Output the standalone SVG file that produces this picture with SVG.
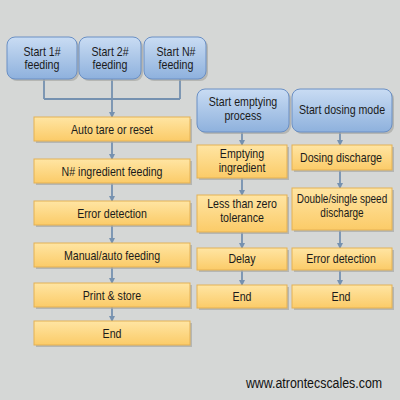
<svg xmlns="http://www.w3.org/2000/svg" width="400" height="400" viewBox="0 0 400 400">
<defs>
<linearGradient id="gb" x1="0" y1="0" x2="0" y2="1"><stop offset="0" stop-color="#c9dcf3"/><stop offset="1" stop-color="#8eb1dd"/></linearGradient>
<linearGradient id="go" x1="0" y1="0" x2="0" y2="1"><stop offset="0" stop-color="#ffe5a3"/><stop offset="1" stop-color="#fbcb68"/></linearGradient>
<marker id="ar" markerWidth="6" markerHeight="6" refX="5" refY="3" orient="auto" markerUnits="userSpaceOnUse"><path d="M0,0 L6,3 L0,6 z" fill="#7591b0"/></marker>
</defs>
<style>
.bl{fill:url(#gb);stroke:#6a8fc4;stroke-width:1}
.or{fill:url(#go);stroke:#e4b155;stroke-width:1}
.sh{fill:#a6a8a4;opacity:.7}
.t{font-family:"Liberation Sans",Arial,sans-serif;font-size:12.5px;fill:#1a1a1a;text-anchor:middle}
.w{font-family:"Liberation Sans",Arial,sans-serif;font-size:15.5px;fill:#111;text-anchor:middle}
.c{fill:none;stroke:#7591b0;stroke-width:1.8}
.ca{fill:none;stroke:#7591b0;stroke-width:1.8;marker-end:url(#ar)}
</style>
<rect width="400" height="400" fill="#d5d7d6"/>

<g id="connectors">
<path class="c" d="M44,79 V99 M112,79 V99 M180,79 V99 M44,99 H180"/>
<path class="ca" d="M112,99 V117"/>
<path class="ca" d="M112,141 V159"/>
<path class="ca" d="M112,183 V201"/>
<path class="ca" d="M112,225 V243"/>
<path class="ca" d="M112,267 V283"/>
<path class="ca" d="M112,307 V321"/>
<path class="ca" d="M242,132 V145"/>
<path class="ca" d="M242,178 V195"/>
<path class="ca" d="M242,232 V248"/>
<path class="ca" d="M242,270 V285"/>
<path class="ca" d="M340,132 V145"/>
<path class="ca" d="M340,170 V188"/>
<path class="ca" d="M340,230 V248"/>
<path class="ca" d="M340,270 V285"/>
</g>

<g id="start1">
<rect class="sh" x="9" y="39" width="70" height="42" rx="8"/>
<rect class="bl" x="7" y="37" width="70" height="42" rx="8"/>
<text class="t" transform="translate(42 55.5) scale(.85 1)"><tspan x="0">Start 1#</tspan><tspan x="0" dy="14">feeding</tspan></text>
</g>
<g id="start2">
<rect class="sh" x="81" y="39" width="62" height="42" rx="8"/>
<rect class="bl" x="79" y="37" width="62" height="42" rx="8"/>
<text class="t" transform="translate(110 55.5) scale(.85 1)"><tspan x="0">Start 2#</tspan><tspan x="0" dy="14">feeding</tspan></text>
</g>
<g id="startN">
<rect class="sh" x="146" y="39" width="62" height="42" rx="8"/>
<rect class="bl" x="144" y="37" width="62" height="42" rx="8"/>
<text class="t" transform="translate(176 55.5) scale(.85 1)"><tspan x="0">Start N#</tspan><tspan x="0" dy="14">feeding</tspan></text>
</g>

<g id="autotare">
<rect class="sh" x="36" y="119" width="156" height="24"/>
<rect class="or" x="34" y="117" width="156" height="24"/>
<text class="t" transform="translate(112 133.5) scale(.85 1)">Auto tare or reset</text>
</g>
<g id="ningredient">
<rect class="sh" x="36" y="161" width="156" height="24"/>
<rect class="or" x="34" y="159" width="156" height="24"/>
<text class="t" transform="translate(112 175.5) scale(.85 1)">N# ingredient feeding</text>
</g>
<g id="errordet">
<rect class="sh" x="36" y="203" width="156" height="24"/>
<rect class="or" x="34" y="201" width="156" height="24"/>
<text class="t" transform="translate(112 217.5) scale(.85 1)">Error detection</text>
</g>
<g id="manual">
<rect class="sh" x="36" y="245" width="156" height="24"/>
<rect class="or" x="34" y="243" width="156" height="24"/>
<text class="t" transform="translate(112 259.5) scale(.85 1)">Manual/auto feeding</text>
</g>
<g id="print">
<rect class="sh" x="36" y="285" width="156" height="24"/>
<rect class="or" x="34" y="283" width="156" height="24"/>
<text class="t" transform="translate(112 299.5) scale(.85 1)">Print &amp; store</text>
</g>
<g id="end1">
<rect class="sh" x="36" y="323" width="156" height="24"/>
<rect class="or" x="34" y="321" width="156" height="24"/>
<text class="t" transform="translate(112 337.5) scale(.85 1)">End</text>
</g>

<g id="startempty">
<rect class="sh" x="199" y="91" width="92" height="43" rx="8"/>
<rect class="bl" x="197" y="89" width="92" height="43" rx="8"/>
<text class="t" transform="translate(243 106) scale(.85 1)"><tspan x="0">Start emptying</tspan><tspan x="0" dy="14">process</tspan></text>
</g>
<g id="startdosing">
<rect class="sh" x="294" y="91" width="100" height="43" rx="8"/>
<rect class="bl" x="292" y="89" width="100" height="43" rx="8"/>
<text class="t" transform="translate(342 114) scale(.85 1)">Start dosing mode</text>
</g>

<g id="emptying">
<rect class="sh" x="199" y="147" width="90" height="33"/>
<rect class="or" x="197" y="145" width="90" height="33"/>
<text class="t" transform="translate(242 158) scale(.85 1)"><tspan x="0">Emptying</tspan><tspan x="0" dy="14">ingredient</tspan></text>
</g>
<g id="lessthan">
<rect class="sh" x="199" y="197" width="90" height="37"/>
<rect class="or" x="197" y="195" width="90" height="37"/>
<text class="t" transform="translate(242 208) scale(.85 1)"><tspan x="0">Less than zero</tspan><tspan x="0" dy="14">tolerance</tspan></text>
</g>
<g id="delay">
<rect class="sh" x="199" y="250" width="90" height="22"/>
<rect class="or" x="197" y="248" width="90" height="22"/>
<text class="t" transform="translate(242 263) scale(.85 1)">Delay</text>
</g>
<g id="end2">
<rect class="sh" x="199" y="287" width="90" height="23"/>
<rect class="or" x="197" y="285" width="90" height="23"/>
<text class="t" transform="translate(242 300.5) scale(.85 1)">End</text>
</g>

<g id="dosingdis">
<rect class="sh" x="294" y="147" width="100" height="25"/>
<rect class="or" x="292" y="145" width="100" height="25"/>
<text class="t" transform="translate(341 161.5) scale(.85 1)">Dosing discharge</text>
</g>
<g id="double">
<rect class="sh" x="294" y="190" width="100" height="42"/>
<rect class="or" x="292" y="188" width="100" height="42"/>
<text class="t" transform="translate(342 203) scale(.8 1)"><tspan x="0">Double/single speed</tspan><tspan x="0" dy="14">discharge</tspan></text>
</g>
<g id="errordet2">
<rect class="sh" x="294" y="250" width="100" height="22"/>
<rect class="or" x="292" y="248" width="100" height="22"/>
<text class="t" transform="translate(341 263) scale(.85 1)">Error detection</text>
</g>
<g id="end3">
<rect class="sh" x="294" y="287" width="100" height="23"/>
<rect class="or" x="292" y="285" width="100" height="23"/>
<text class="t" transform="translate(341 300.5) scale(.85 1)">End</text>
</g>

<text class="w" transform="translate(314 388) scale(.8 1)">www.atrontecscales.com</text>
</svg>
